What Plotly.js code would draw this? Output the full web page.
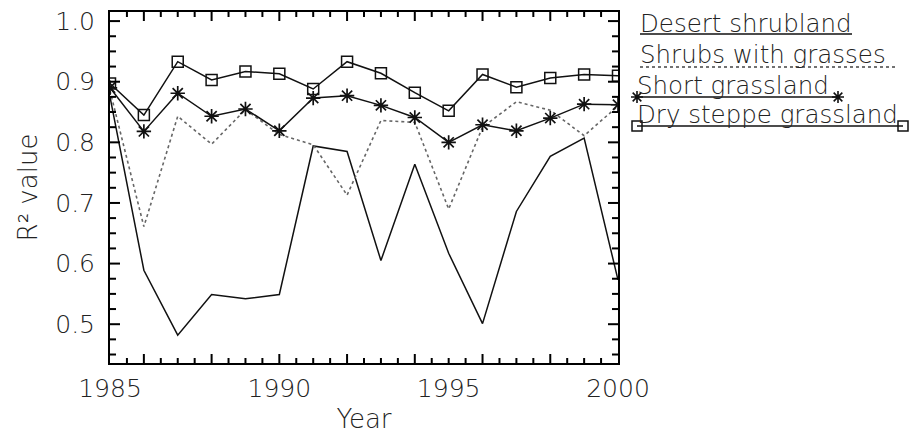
<!DOCTYPE html>
<html><head><meta charset="utf-8">
<script src="https://cdn.plot.ly/plotly-3.0.1.min.js"></script>
<style>html,body{margin:0;padding:0;background:#fff}</style>
</head><body><div id="chart" style="width:909px;height:444px"></div>
<script>
// ---- data ----
const years = [1985,1986,1987,1988,1989,1990,1991,1992,1993,1994,1995,1996,1997,1998,1999,2000];
const desertShrubland   = [0.875,0.589,0.482,0.549,0.542,0.549,0.794,0.785,0.605,0.764,0.617,0.501,0.686,0.777,0.807,0.573];
const shrubsWithGrasses = [0.885,0.661,0.843,0.797,0.854,0.813,0.796,0.713,0.836,0.833,0.690,0.825,0.867,0.853,0.811,0.860];
const shortGrassland    = [0.890,0.818,0.881,0.843,0.855,0.819,0.873,0.877,0.861,0.841,0.800,0.829,0.819,0.840,0.863,0.862];
const drySteppeGrassland= [0.897,0.845,0.933,0.903,0.917,0.913,0.888,0.933,0.914,0.882,0.852,0.912,0.891,0.906,0.912,0.910];
const seriesNames = ['Desert shrubland','Shrubs with grasses','Short grassland','Dry steppe grassland'];
const xLabelYears = [1985,1990,1995,2000];
const xLabelText = ['1985','1990','1995','2000'];
const yTickValues = [0.5,0.6,0.7,0.8,0.9,1.0];
const yTickLabels = ['0.5','0.6','0.7','0.8','0.9','1.0'];
const xRange = [1985, 2000];
const yRange = [0.436, 1.015];

// ---- styles ----
const INK = '#000';
const FONT = {family:'DejaVu Sans', size:25, color:'#222', weight:300};
const TFONT = {family:'DejaVu Sans', size:26, color:'#222', weight:300};
const LFONT = {family:'DejaVu Sans', size:24.5, color:'#222', weight:300};
const W = 909, H = 444, ML = 110, MR = 291, MT = 12, MB = 81;
const plotW = W - ML - MR, plotH = H - MT - MB;
const px = v => (v - ML) / plotW;          // pixel -> paper (x), legend layout only
const py = v => (H - MB - v) / plotH;      // pixel -> paper (y), legend layout only

const traces = [
  {x: years, y: desertShrubland, name: seriesNames[0], mode:'lines',
   line:{color:'#111', width:1.5}},
  {x: years, y: shrubsWithGrasses, name: seriesNames[1], mode:'lines',
   line:{color:'#666', width:1.6, dash:'dot'}},
  {x: years, y: shortGrassland, name: seriesNames[2], mode:'lines+markers',
   line:{color:'#111', width:1.5}, marker:{symbol:'asterisk-open', size:12, line:{color:'#111', width:1.7}}},
  {x: years, y: drySteppeGrassland, name: seriesNames[3], mode:'lines+markers',
   line:{color:'#111', width:1.5}, marker:{symbol:'square-open', size:11, color:'#111', line:{color:'#111', width:1.5}}}
];

const shapes = [];
const annotations = [];

// ---- IDL-style tick marks on all four sides, placed through the axes' own data scales ----
const TW = 2;
function xTick(v, len) {
  shapes.push({type:'line', layer:'above', xref:'x', yref:'paper', x0:v, x1:v, y0:0, y1:len/plotH, line:{color:INK, width:TW}});
  shapes.push({type:'line', layer:'above', xref:'x', yref:'paper', x0:v, x1:v, y0:1, y1:1 - len/plotH, line:{color:INK, width:TW}});
}
function yTick(v, len) {
  shapes.push({type:'line', layer:'above', xref:'paper', yref:'y', y0:v, y1:v, x0:0, x1:len/plotW, line:{color:INK, width:TW}});
  shapes.push({type:'line', layer:'above', xref:'paper', yref:'y', y0:v, y1:v, x0:1, x1:1 - len/plotW, line:{color:INK, width:TW}});
}
for (let k = 1; k < (xRange[1] - xRange[0]) * 2; k++) {
  const v = xRange[0] + k * 0.5;
  xTick(v, (k % 4 === 2) ? 9 : 5);   // long ticks on even years
}
for (let k = 0; 0.5 + k * 0.025 < yRange[1] - 0.001; k++) {
  yTick(0.5 + k * 0.025, (k % 4 === 0) ? 10 : 6);
}
for (let k = 1; 0.5 - k * 0.025 > yRange[0]; k++) {
  yTick(0.5 - k * 0.025, 6);
}

// ---- IDL-style legend: text with the line style drawn underneath ----
const legendRows = [
  {name: seriesNames[0], textY: 24,   lineY: 34,  x0: 640, x1: 852, dash:'solid', color:'#111', symbol:null},
  {name: seriesNames[1], textY: 55,   lineY: 67,  x0: 640, x1: 895, dash:'dot',   color:'#444', symbol:null},
  {name: seriesNames[2], textY: 85,   lineY: 97,  x0: 637, x1: 838, dash:'solid', color:'#111', symbol:'star'},
  {name: seriesNames[3], textY: 114.5,lineY: 126, x0: 637, x1: 903, dash:'solid', color:'#111', symbol:'square'}
];
function starPath(cx, cy, r) {
  const d = r * 0.72;
  const seg = (ax, ay, bx, by) => `M${px(ax)},${py(ay)} L${px(bx)},${py(by)} `;
  return seg(cx - r, cy, cx + r, cy) + seg(cx, cy - r, cx, cy + r) +
         seg(cx - d, cy - d, cx + d, cy + d) + seg(cx - d, cy + d, cx + d, cy - d);
}
legendRows.forEach(r => {
  shapes.push({type:'line', xref:'paper', yref:'paper', x0:px(r.x0), x1:px(r.x1), y0:py(r.lineY), y1:py(r.lineY),
    line:{color:r.color, width:1.5, dash:r.dash}});
  [r.x0, r.x1].forEach(cx => {
    if (r.symbol === 'square') {
      shapes.push({type:'rect', xref:'paper', yref:'paper', x0:px(cx - 5), x1:px(cx + 5), y0:py(r.lineY - 5), y1:py(r.lineY + 5),
        line:{color:'#111', width:1.5}, fillcolor:'rgba(0,0,0,0)'});
    } else if (r.symbol === 'star') {
      shapes.push({type:'path', xref:'paper', yref:'paper', path:starPath(cx, r.lineY, 6), line:{color:'#111', width:1.6}});
    }
  });
  annotations.push({xref:'paper', yref:'paper', x:px(r.x0 - 2), y:py(r.textY), text:r.name, showarrow:false,
    xanchor:'left', yanchor:'middle', font:LFONT});
});

const layout = {
  width: W, height: H,
  margin:{l:ML, r:MR, t:MT, b:MB, pad:0},
  paper_bgcolor:'#fff', plot_bgcolor:'#fff',
  showlegend:false,
  font: FONT,
  shapes: shapes,
  annotations: annotations,
  xaxis:{range:xRange, showline:true, mirror:true, linecolor:INK, linewidth:2,
    tickmode:'array', tickvals:xLabelYears, ticktext:xLabelText, ticks:'',
    showgrid:false, zeroline:false, tickfont:FONT, ticklabelstandoff:2,
    title:{text:'Year', font:TFONT, standoff:8}},
  yaxis:{range:yRange, showline:true, mirror:true, linecolor:INK, linewidth:2,
    tickmode:'array', tickvals:yTickValues, ticktext:yTickLabels, ticks:'',
    showgrid:false, zeroline:false, tickfont:FONT, ticklabelstandoff:8,
    title:{text:'R² value', font:TFONT, standoff:10}}
};

Plotly.newPlot('chart', traces, layout, {displayModeBar:false, staticPlot:true});
</script></body></html>
